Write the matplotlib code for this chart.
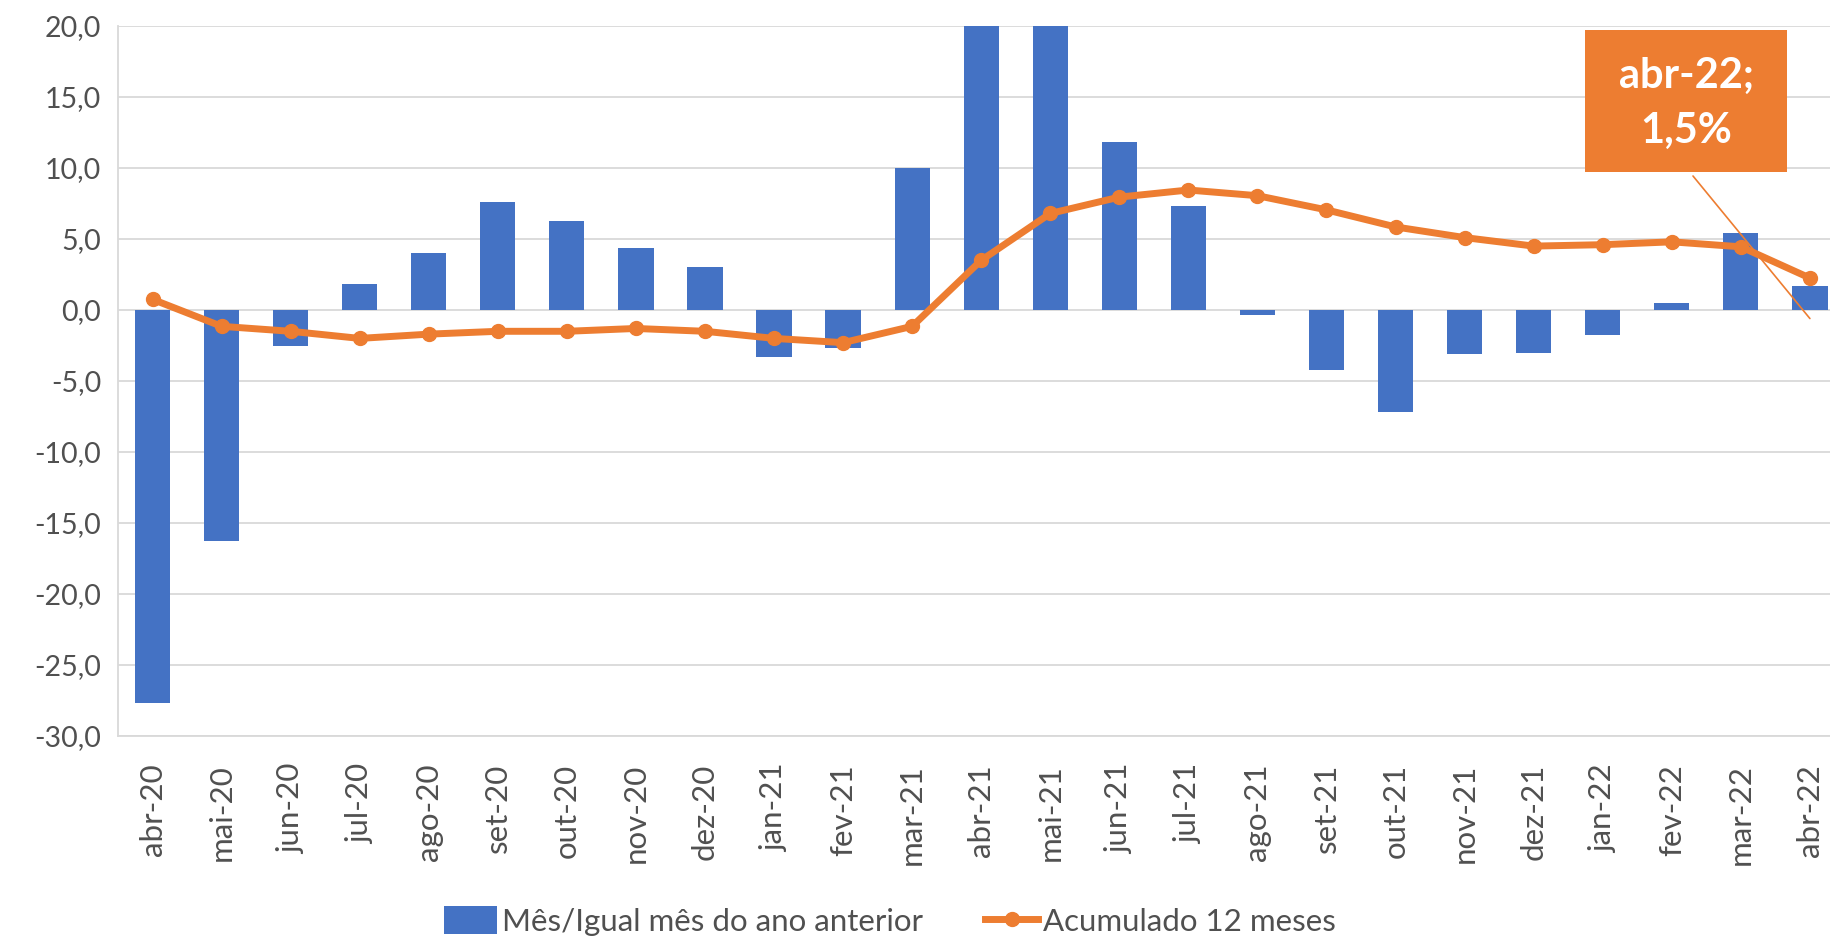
import matplotlib.pyplot as plt
import matplotlib.ticker as mticker
from matplotlib.patches import Rectangle

months = ['abr-20', 'mai-20', 'jun-20', 'jul-20', 'ago-20', 'set-20', 'out-20', 'nov-20', 'dez-20',
          'jan-21', 'fev-21', 'mar-21', 'abr-21', 'mai-21', 'jun-21', 'jul-21', 'ago-21', 'set-21',
          'out-21', 'nov-21', 'dez-21', 'jan-22', 'fev-22', 'mar-22', 'abr-22']
mes = [-27.7, -16.3, -2.5, 1.8, 4.0, 7.6, 6.3, 4.4, 3.0,
       -3.3, -2.7, 10.0, 40.0, 30.0, 11.8, 7.3, -0.35, -4.2,
       -7.2, -3.1, -3.0, -1.75, 0.5, 5.4, 1.7]
acum = [0.75, -1.15, -1.5, -2.0, -1.7, -1.5, -1.5, -1.3, -1.5,
        -2.0, -2.3, -1.15, 3.5, 6.8, 7.95, 8.45, 8.05, 7.05,
        5.85, 5.1, 4.5, 4.6, 4.8, 4.45, 2.25]
label_text = 'abr-22;\n1,5%'

blue = '#4472C4'
orange = '#ED7D31'
grey = '#505050'
gridc = '#D9D9D9'

plt.rcParams['font.family'] = ['Lato', 'DejaVu Sans']

W, H = 1830, 940
fig = plt.figure(figsize=(W / 100, H / 100), dpi=100)
ax = fig.add_axes([118 / W, 1 - 736 / H, 1 - 118 / W, (736 - 26) / H])

x = list(range(len(months)))
bars = ax.bar(x, mes, width=0.51, color=blue, zorder=2)
line, = ax.plot(x, acum, color=orange, lw=5, marker='o', ms=10, zorder=3)

ax.set_ylim(-30, 20)
ax.set_xlim(-0.5, (W - 152.7) / 69.05)
ax.set_yticks(range(-30, 21, 5))
ax.yaxis.set_major_formatter(mticker.FuncFormatter(lambda v, p: ('%.1f' % v).replace('.', ',')))
ax.set_xticks(x)
ax.set_xticklabels(months, rotation=90)
ax.tick_params(length=0, labelsize=20.5, labelcolor=grey)
ax.tick_params(axis='x', pad=20, labelsize=22.5)
ax.tick_params(axis='y', pad=12)
ax.grid(axis='y', color=gridc, lw=1.3, zorder=0)
for s in ['top', 'right']:
    ax.spines[s].set_visible(False)
for s in ['left', 'bottom']:
    ax.spines[s].set_color(gridc)
    ax.spines[s].set_linewidth(1.3)

# data label box
bx0, by0, bx1, by1 = 1585, 30, 1787, 172
fig.patches.append(Rectangle((bx0 / W, 1 - by1 / H), (bx1 - bx0) / W, (by1 - by0) / H,
                             transform=fig.transFigure, fc=orange, ec='none', zorder=5))
fig.text((bx0 + bx1) / 2 / W, 1 - (by0 + by1 + 4) / 2 / H, label_text, color='white',
         fontsize=30, fontweight='bold', ha='center', va='center', linespacing=1.55, zorder=6)
ax.annotate('', xy=(len(months) - 1, -0.6), xycoords='data',
            xytext=(1693 / W, 1 - 176 / H), textcoords='figure fraction',
            arrowprops=dict(arrowstyle='-', color=orange, lw=1.2, shrinkA=0, shrinkB=0),
            annotation_clip=False)

fig.legend([bars, line], ['Mês/Igual mês do ano anterior', 'Acumulado 12 meses'],
           loc='center', bbox_to_anchor=(890 / W, 1 - 921 / H), ncol=2, frameon=False,
           fontsize=22.5, labelcolor=grey, handlelength=1.7, handleheight=1.0,
           handletextpad=0.15, columnspacing=2.0)

fig.savefig('out.png', dpi=100)
